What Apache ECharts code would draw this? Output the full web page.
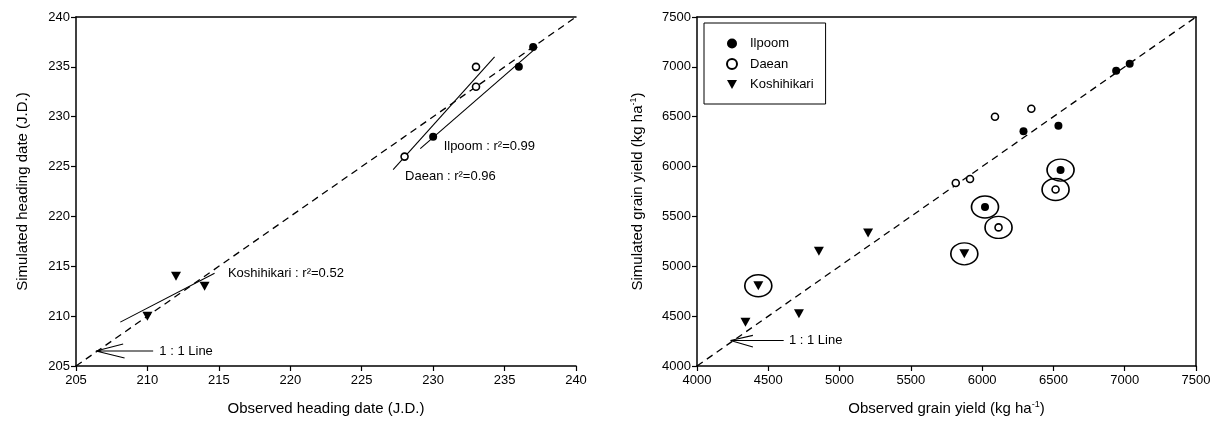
<!DOCTYPE html>
<html>
<head>
<meta charset="utf-8">
<script src="https://cdn.jsdelivr.net/npm/echarts@6/dist/echarts.min.js"></script>
<style>
html,body{margin:0;padding:0;background:#fff;}
#c{width:1217px;height:430px;}
</style>
</head>
<body>
<div id="c"></div>
<script>
// ---------- Left panel: heading date (J.D.) ----------
const leftTicks = {min: 205, max: 240, interval: 5};
const leftIlpoom = [[230, 228], [236, 235], [237, 237]];
const leftDaean = [[228, 226], [233, 233], [233, 235]];
const leftKoshi = [[210, 210], [212, 214], [214, 213]];
const leftIlpoomFit = [[229.1, 226.8], [237.3, 237.0]];
const leftDaeanFit = [[227.2, 224.7], [234.3, 236.0]];
const leftKoshiFit = [[208.1, 209.4], [214.7, 214.3]];
const leftOneToOne = [[205, 205], [240, 240]];
const leftArrow = [[210.4, 206.5], [206.4, 206.5], [208.3, 207.2], [206.4, 206.5], [208.4, 205.8]];
const leftLabelPos = [[230.7, 227.0], [228.0, 224.0], [215.6, 214.25], [210.8, 206.5]];
const leftLabelText = ['Ilpoom : r²=0.99', 'Daean : r²=0.96', 'Koshihikari : r²=0.52', '1 : 1 Line'];

// ---------- Right panel: grain yield (kg/ha) ----------
const rightTicks = {min: 4000, max: 7500, interval: 500};
const rightIlpoom = [[6940, 6960], [7035, 7030], [6290, 6355], [6535, 6410], [6550, 5965], [6020, 5595]];
const rightDaean = [[6090, 6500], [6345, 6580], [5815, 5835], [5915, 5875], [6515, 5770], [6115, 5390]];
const rightKoshi = [[4340, 4440], [4715, 4525], [4855, 5150], [5200, 5335], [4430, 4805], [5875, 5125]];
const rightCircled = [[6550, 5965], [6020, 5595], [6515, 5770], [6115, 5390], [4430, 4805], [5875, 5125]];
const rightOneToOne = [[4000, 4000], [7500, 7500]];
const rightArrow = [[4608, 4255], [4235, 4255], [4392, 4307], [4235, 4255], [4392, 4190]];
const rightLabelPos = [[4641, 4255]];
const rightLabelText = ['1 : 1 Line'];

const seriesNames = ['Ilpoom', 'Daean', 'Koshihikari'];

const FONT = 'Liberation Sans, Arial, sans-serif';
const triDown = 'path://M0,0L10,0L5,9Z';

function solid(data, xi, yi, dashed) {
  return {
    type: 'line', xAxisIndex: xi, yAxisIndex: yi, data: data,
    symbol: 'none', silent: true, z: 2,
    lineStyle: {color: '#000', width: dashed ? 1.3 : 1.1, type: dashed ? [7, 5] : 'solid', opacity: 1}
  };
}
function labels(pos, text, xi, yi) {
  return {
    type: 'scatter', xAxisIndex: xi, yAxisIndex: yi, silent: true, z: 5,
    symbolSize: 1, itemStyle: {color: '#fff', opacity: 1},
    data: pos.map((p, i) => ({value: p, name: text[i]})),
    label: {show: true, position: 'right', distance: 0, formatter: '{b}',
      color: '#000', fontSize: 13, fontFamily: FONT, opacity: 1}
  };
}
function plain(v) { return String(v); }
function axisX(gi, t, name, top) {
  return {
    type: 'value', gridIndex: gi, min: t.min, max: t.max, interval: t.interval,
    position: top ? 'top' : 'bottom',
    name: top ? '' : name, nameLocation: 'middle', nameGap: 34,
    nameTextStyle: {color: '#000', fontSize: 15, fontFamily: FONT, lineHeight: 18,
      rich: {sup: {fontSize: 9, verticalAlign: 'top', lineHeight: 18, fontFamily: FONT, color: '#000'}}},
    axisLine: {show: true, lineStyle: {color: '#000', width: 1.5}},
    axisTick: {show: !top, inside: false, length: 5, lineStyle: {color: '#000', width: 1.2}},
    axisLabel: {show: !top, color: '#000', fontSize: 13, fontFamily: FONT, margin: 8, formatter: plain},
    splitLine: {show: false}
  };
}
function axisY(gi, t, name, right, gap) {
  return {
    type: 'value', gridIndex: gi, min: t.min, max: t.max, interval: t.interval,
    position: right ? 'right' : 'left',
    name: right ? '' : name, nameLocation: 'middle', nameGap: gap, nameRotate: 90,
    nameTextStyle: {color: '#000', fontSize: 15, fontFamily: FONT, lineHeight: 18,
      rich: {sup: {fontSize: 9, verticalAlign: 'top', lineHeight: 18, fontFamily: FONT, color: '#000'}}},
    axisLine: {show: true, lineStyle: {color: '#000', width: 1.5}},
    axisTick: {show: !right, inside: false, length: 5, lineStyle: {color: '#000', width: 1.2}},
    axisLabel: {show: !right, color: '#000', fontSize: 13, fontFamily: FONT, margin: 6, formatter: plain},
    splitLine: {show: false}
  };
}
function pts(name, data, xi, yi, kind) {
  const s = {type: 'scatter', name: name, xAxisIndex: xi, yAxisIndex: yi, data: data, z: 4};
  if (kind === 'filled') {
    s.symbol = 'circle'; s.symbolSize = 8; s.itemStyle = {color: '#000', opacity: 1};
  } else if (kind === 'open') {
    s.symbol = 'circle'; s.symbolSize = 7;
    s.itemStyle = {color: '#fff', borderColor: '#000', borderWidth: 1.6, opacity: 1};
  } else {
    s.symbol = triDown; s.symbolSize = [10, 9]; s.itemStyle = {color: '#000', opacity: 1};
  }
  return s;
}

const chart = echarts.init(document.getElementById('c'), null, {renderer: 'canvas'});
chart.setOption({
  animation: false,
  backgroundColor: '#fff',
  grid: [
    {left: 76, right: 641, top: 17, bottom: 64},
    {left: 697, right: 21, top: 17, bottom: 64}
  ],
  legend: {
    orient: 'vertical', left: 704, top: 23,
    data: seriesNames,
    padding: [14, 12, 13, 22], itemGap: 7.5, itemWidth: 10, itemHeight: 10,
    borderColor: '#000', borderWidth: 1,
    textStyle: {color: '#000', fontSize: 13, fontFamily: FONT, padding: [0, 0, 0, 8]},
    selectedMode: false
  },
  xAxis: [
    axisX(0, leftTicks, 'Observed heading date (J.D.)', false),
    axisX(0, leftTicks, '', true),
    axisX(1, rightTicks, 'Observed grain yield (kg ha{sup|-1})', false),
    axisX(1, rightTicks, '', true)
  ],
  yAxis: [
    axisY(0, leftTicks, 'Simulated heading date (J.D.)', false, 44),
    axisY(1, rightTicks, 'Simulated grain yield (kg ha{sup|-1})', false, 50),
    axisY(1, rightTicks, '', true, 0)
  ],
  series: [
    // left panel
    solid(leftOneToOne, 0, 0, true),
    solid(leftIlpoomFit, 0, 0, false),
    solid(leftDaeanFit, 0, 0, false),
    solid(leftKoshiFit, 0, 0, false),
    solid(leftArrow, 0, 0, false),
    pts('Ilpoom', leftIlpoom, 0, 0, 'filled'),
    pts('Daean', leftDaean, 0, 0, 'open'),
    pts('Koshihikari', leftKoshi, 0, 0, 'tri'),
    labels(leftLabelPos, leftLabelText, 0, 0),
    // right panel
    solid(rightOneToOne, 2, 1, true),
    solid(rightArrow, 2, 1, false),
    {type: 'scatter', name: 'rings', xAxisIndex: 2, yAxisIndex: 1, data: rightCircled,
      symbol: 'circle', symbolSize: [27, 22], silent: true,
      itemStyle: {color: 'rgba(255,255,255,0)', borderColor: '#000', borderWidth: 1.5, opacity: 1}, z: 3},
    pts('Ilpoom', rightIlpoom, 2, 1, 'filled'),
    pts('Daean', rightDaean, 2, 1, 'open'),
    pts('Koshihikari', rightKoshi, 2, 1, 'tri'),
    labels(rightLabelPos, rightLabelText, 2, 1)
  ]
});
</script>
</body>
</html>
